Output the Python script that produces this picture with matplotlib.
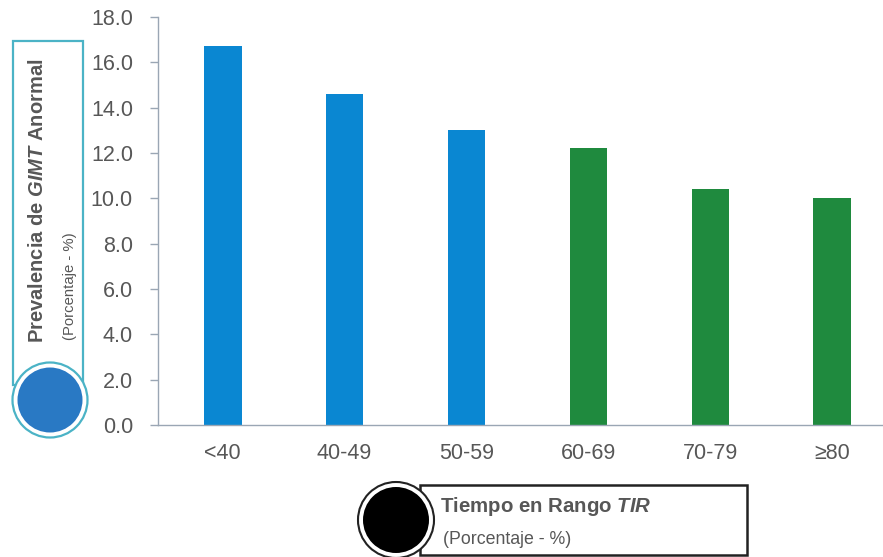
import matplotlib
matplotlib.use("Agg")
import matplotlib.pyplot as plt
from matplotlib.patches import Circle, Rectangle

plt.rcParams['font.family'] = ['Liberation Sans', 'DejaVu Sans']
plt.rcParams['mathtext.fontset'] = 'custom'
plt.rcParams['mathtext.it'] = 'Liberation Sans:italic:bold'

# Tiempo en rango (TIR) vs prevalencia de GIMT anormal
categories = ["<40", "40-49", "50-59", "60-69", "70-79", "≥80"]
prevalence = [16.7, 14.6, 13.0, 12.2, 10.4, 10.0]
bar_colors = ["#0a87d2", "#0a87d2", "#0a87d2", "#1f8a3e", "#1f8a3e", "#1f8a3e"]
y_ticks = [0, 2, 4, 6, 8, 10, 12, 14, 16, 18]

W, H = 883, 557
DPI = 100
fig = plt.figure(figsize=(W / DPI, H / DPI), dpi=DPI)

# axes placed in pixel units (origin top-left)
ax_left, ax_top, ax_bottom, ax_right = 158, 17, 425, 897
ax = fig.add_axes([ax_left / W, 1 - ax_bottom / H,
                   (ax_right - ax_left) / W, (ax_bottom - ax_top) / H])

ax.bar(range(len(categories)), prevalence, width=0.31, color=bar_colors)
ax.set_xlim(-0.53, 5.53)
ax.set_ylim(0, 18)
ax.set_yticks(y_ticks)
ax.set_yticklabels([f"{v:.1f}" for v in y_ticks])
ax.set_xticks(range(len(categories)))
ax.set_xticklabels(categories)

grey = "#575757"
spine_c = "#9aa6b4"
for s in ["top", "right"]:
    ax.spines[s].set_visible(False)
for s in ["left", "bottom"]:
    ax.spines[s].set_color(spine_c)
    ax.spines[s].set_linewidth(1.0)
ax.tick_params(axis="y", colors=spine_c, length=6, width=1.0, labelsize=15.5,
               labelcolor=grey, pad=12)
ax.tick_params(axis="x", length=0, labelsize=15.5, labelcolor=grey, pad=13)


def px(x, y):
    # pixel position -> inches from bottom-left
    return (x / DPI, (H - y) / DPI)


tr = fig.dpi_scale_trans

# left label box with blue badge
box_c = "#4bb3c6"
x0, y0 = px(13, 385)
fig.patches.append(Rectangle((x0, y0), 70 / DPI, 344 / DPI, transform=tr,
                             fill=False, edgecolor=box_c, linewidth=1.6))
cx, cy = px(50, 400)
fig.patches.append(Circle((cx, cy), 37.5 / DPI, transform=tr,
                          facecolor="white", edgecolor=box_c, linewidth=1.6))
fig.patches.append(Circle((cx, cy), 32.5 / DPI, transform=tr,
                          facecolor="#2979c4", edgecolor="none"))

fig.text(38 / W, 1 - 201 / H,
         r"Prevalencia de $\mathit{GIMT}$ Anormal", rotation=90,
         ha="center", va="center", fontsize=14.5, fontweight="bold", color=grey)
fig.text(70 / W, 1 - 286 / H, "(Porcentaje - %)", rotation=90,
         ha="center", va="center", fontsize=10.7, color=grey)

# bottom label box with black badge
x0, y0 = px(420, 555)
fig.patches.append(Rectangle((x0, y0), 327 / DPI, 70 / DPI, transform=tr,
                             fill=False, edgecolor="#222222", linewidth=1.8))
cx, cy = px(396, 520)
fig.patches.append(Circle((cx, cy), 38 / DPI, transform=tr,
                          facecolor="white", edgecolor="#222222", linewidth=1.5))
fig.patches.append(Circle((cx, cy), 33 / DPI, transform=tr,
                          facecolor="black", edgecolor="none"))

fig.text(440 / W, 1 - 507 / H, r"Tiempo en Rango $\mathit{TIR}$",
         ha="left", va="center", fontsize=14.7, fontweight="bold", color=grey)
fig.text(443 / W, 1 - 540 / H, "(Porcentaje - %)",
         ha="left", va="center", fontsize=12.8, color=grey)

fig.savefig("out.png", dpi=DPI)
